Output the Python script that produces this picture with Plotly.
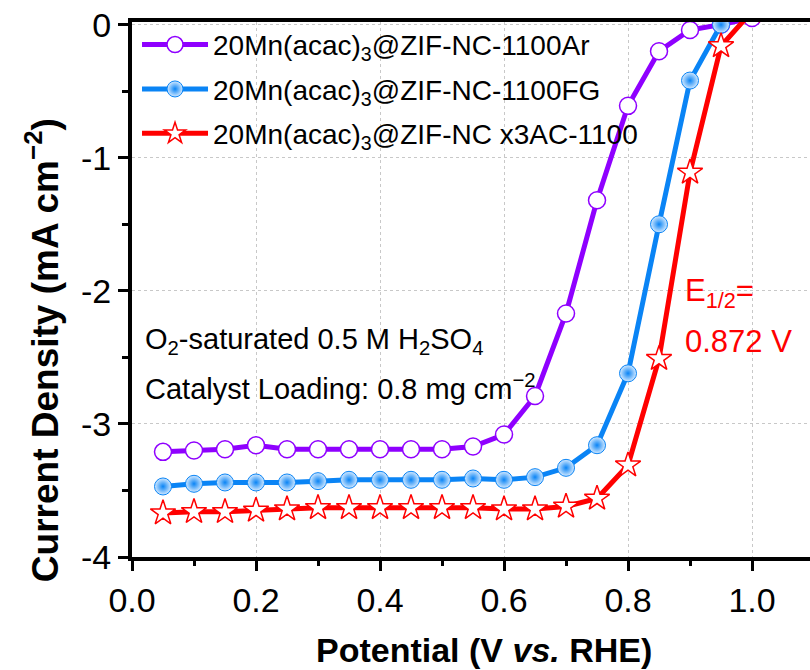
import plotly.graph_objects as go

potential = [0.05, 0.10, 0.15, 0.20, 0.25, 0.30, 0.35, 0.40, 0.45, 0.50,
             0.55, 0.60, 0.65, 0.70, 0.75, 0.80, 0.85, 0.90, 0.95, 1.00]

j_ar = [-3.21, -3.20, -3.19, -3.16, -3.19, -3.19, -3.19, -3.19, -3.19, -3.19,
        -3.17, -3.08, -2.79, -2.17, -1.32, -0.61, -0.20, -0.04, 0.00, 0.05]
j_fg = [-3.47, -3.45, -3.44, -3.44, -3.44, -3.43, -3.42, -3.42, -3.42, -3.42,
        -3.41, -3.42, -3.40, -3.33, -3.16, -2.62, -1.50, -0.42, 0.00, 0.30]
j_ac = [-3.67, -3.66, -3.66, -3.65, -3.64, -3.63, -3.63, -3.63, -3.63, -3.63,
        -3.63, -3.64, -3.64, -3.62, -3.56, -3.31, -2.51, -1.11, -0.16, 0.10]

names = ["20Mn(acac)<sub>3</sub>@ZIF-NC-1100Ar",
         "20Mn(acac)<sub>3</sub>@ZIF-NC-1100FG",
         "20Mn(acac)<sub>3</sub>@ZIF-NC x3AC-1100"]

x_ticks = [0.0, 0.2, 0.4, 0.6, 0.8, 1.0]
x_ticklabels = ["0.0", "0.2", "0.4", "0.6", "0.8", "1.0"]
y_ticks = [0, -1, -2, -3, -4]
y_ticklabels = ["0", "-1", "-2", "-3", "-4"]

PURPLE = "#8F00FF"
BLUE = "#0A84F5"
RED = "#FF0000"
FONT = "Liberation Sans, Arial, sans-serif"

fig = go.Figure()
fig.add_trace(go.Scatter(
    x=potential, y=j_ar, name=names[0], mode="lines+markers", legendgroup="a",
    line=dict(color=PURPLE, width=5),
    marker=dict(symbol="circle", size=17, color="white",
                line=dict(color=PURPLE, width=1.5)),
))
fig.add_trace(go.Scatter(
    x=potential, y=j_fg, name=names[1], mode="lines+markers", legendgroup="b",
    line=dict(color=BLUE, width=5),
    marker=dict(symbol="circle", size=17, color="#d5eaff",
                gradient=dict(type="radial", color=BLUE),
                line=dict(color=BLUE, width=1)),
))
fig.add_trace(go.Scatter(
    x=potential, y=j_ac, name=names[2], mode="lines+markers", legendgroup="c",
    line=dict(color=RED, width=5),
    marker=dict(symbol="star", size=19, color="white",
                line=dict(color=RED, width=1.5)),
))

axis_common = dict(
    showline=True, linecolor="black", linewidth=4,
    ticks="outside", tickcolor="black", tickwidth=3, ticklen=10,
    tickfont=dict(family=FONT, size=34, color="black"),
    showgrid=True, gridcolor="#c8c8c8", gridwidth=1, griddash="dot",
    zeroline=False,
)

fig.update_xaxes(
    **axis_common,
    range=[0, 1.0935], mirror=True,
    tickmode="array", tickvals=x_ticks, ticktext=x_ticklabels,
    minor=dict(dtick=0.1, tick0=0, ticks="outside", ticklen=5, tickwidth=3,
               tickcolor="black", showgrid=False),
)
fig.update_yaxes(
    **axis_common,
    range=[-4, 0.02], mirror=False,
    tickmode="array", tickvals=y_ticks, ticktext=y_ticklabels,
    minor=dict(dtick=0.5, tick0=0, ticks="outside", ticklen=6, tickwidth=3,
               tickcolor="black", showgrid=False),
)

# axis titles
fig.add_annotation(x=0.519, y=-0.174, xref="paper", yref="paper",
                   xanchor="center", yanchor="middle", showarrow=False,
                   text="<b>Potential (V <i>vs.</i> RHE)</b>",
                   font=dict(family=FONT, size=34, color="black"))
fig.add_annotation(x=-0.131, y=0.387, xref="paper", yref="paper",
                   xanchor="center", yanchor="middle", showarrow=False,
                   textangle=-90,
                   text="<b>Current Density (mA cm<sup>\u22122</sup>)</b>",
                   font=dict(family=FONT, size=37, color="black"))

fig.add_annotation(x=0.016, y=0.404, xref="paper", yref="paper",
                   xanchor="left", yanchor="middle", showarrow=False,
                   text="O<sub>2</sub>-saturated 0.5 M H<sub>2</sub>SO<sub>4</sub>",
                   font=dict(family=FONT, size=29, color="black"))
fig.add_annotation(x=0.016, y=0.318, xref="paper", yref="paper",
                   xanchor="left", yanchor="middle", showarrow=False,
                   text="Catalyst Loading: 0.8 mg cm<sup>\u22122</sup>",
                   font=dict(family=FONT, size=29, color="black"))
fig.add_annotation(x=0.813, y=0.493, xref="paper", yref="paper",
                   xanchor="left", yanchor="middle", showarrow=False,
                   text="E<sub>1/2</sub>=",
                   font=dict(family=FONT, size=31, color=RED))
fig.add_annotation(x=0.813, y=0.402, xref="paper", yref="paper",
                   xanchor="left", yanchor="middle", showarrow=False,
                   text="0.872 V",
                   font=dict(family=FONT, size=31, color=RED))

fig.update_layout(
    width=810, height=670,
    margin=dict(l=132, r=0, t=22, b=113),
    plot_bgcolor="white", paper_bgcolor="white",
    font=dict(family=FONT, color="black"),
    showlegend=True,
    legend=dict(x=0.0074, y=1.004, xanchor="left", yanchor="top",
                bgcolor="rgba(0,0,0,0)", font=dict(family=FONT, size=28, color="black"),
                itemwidth=66, tracegroupgap=5),
)

fig.write_html("out.html")
